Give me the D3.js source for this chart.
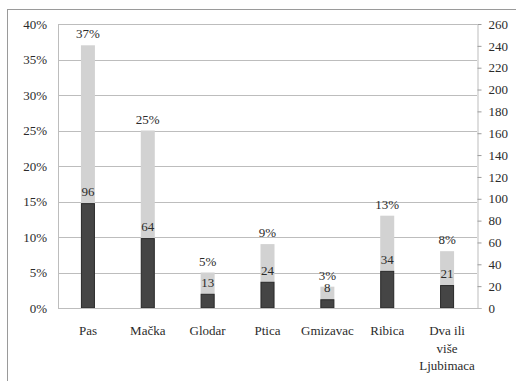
<!DOCTYPE html>
<html>
<head>
<meta charset="utf-8">
<script src="https://cdn.jsdelivr.net/npm/d3@7"></script>
<style>
  html, body { margin: 0; padding: 0; background: #fff; }
</style>
</head>
<body>
<svg id="chart" width="516" height="381"></svg>
<script>
// Pet ownership: share of respondents (left axis) and counts (right axis)
const categories = ["Pas", "Mačka", "Glodar", "Ptica", "Gmizavac", "Ribica", "Dva ili više Ljubimaca"];
const categoryLines = [["Pas"], ["Mačka"], ["Glodar"], ["Ptica"], ["Gmizavac"], ["Ribica"], ["Dva ili", "više", "Ljubimaca"]];
const percentValues = [37, 25, 5, 9, 3, 13, 8];
const countValues = [96, 64, 13, 24, 8, 34, 21];
const percentTicks = [0, 5, 10, 15, 20, 25, 30, 35, 40];
const countTicks = [0, 20, 40, 60, 80, 100, 120, 140, 160, 180, 200, 220, 240, 260];

const FONT = "Liberation Serif";
const TEXT_COLOR = "#2b2b2b";

const svg = d3.select("#chart");
const plot = { left: 58, right: 477, top: 24, bottom: 308 };

function styleText(sel) {
  sel.style("font-family", FONT).style("font-size", "13px").style("fill", TEXT_COLOR);
}

// Outer chart frame
svg.append("rect")
  .attr("x", 7.5).attr("y", 9.5)
  .attr("width", 540).attr("height", 400)
  .attr("fill", "none").attr("stroke", "#9a9a9a");

const x = d3.scaleBand().domain(categories).range([plot.left, plot.right]);
const yPct = d3.scaleLinear().domain([0, 40]).range([plot.bottom, plot.top]);
const yCnt = d3.scaleLinear().domain([0, 260]).range([plot.bottom, plot.top]);
const barW = 14;

// Horizontal gridlines at each percent tick
svg.append("g").selectAll("line").data(percentTicks).join("line")
  .attr("x1", plot.left).attr("x2", plot.right)
  .attr("y1", d => Math.round(yPct(d)) + 0.5).attr("y2", d => Math.round(yPct(d)) + 0.5)
  .attr("stroke", "#bdbdbd");

// Left frame line of the plot area
svg.append("line").attr("x1", plot.left + 0.5).attr("x2", plot.left + 0.5)
  .attr("y1", plot.top).attr("y2", plot.bottom).attr("stroke", "#bdbdbd");

// Percentage bars (light)
svg.append("g").selectAll("rect").data(percentValues).join("rect")
  .attr("x", (d, i) => x(categories[i]) + x.bandwidth() / 2 - barW / 2)
  .attr("y", d => yPct(d))
  .attr("width", barW)
  .attr("height", d => plot.bottom - yPct(d))
  .attr("fill", "#d2d2d2");

// Count bars (dark), on the right-hand scale
svg.append("g").selectAll("rect").data(countValues).join("rect")
  .attr("x", (d, i) => x(categories[i]) + x.bandwidth() / 2 - barW / 2 + 0.5)
  .attr("y", d => yCnt(d) + 0.5)
  .attr("width", barW - 1)
  .attr("height", d => plot.bottom - yCnt(d) - 0.5)
  .attr("fill", "#454545")
  .attr("stroke", "#2a2a2a");

// Value labels
svg.append("g").selectAll("text").data(percentValues).join("text")
  .attr("x", (d, i) => x(categories[i]) + x.bandwidth() / 2)
  .attr("y", d => yPct(d) - 7)
  .attr("text-anchor", "middle")
  .text(d => d + "%")
  .call(styleText);

svg.append("g").selectAll("text").data(countValues).join("text")
  .attr("x", (d, i) => x(categories[i]) + x.bandwidth() / 2)
  .attr("y", d => yCnt(d) - 7)
  .attr("text-anchor", "middle")
  .text(d => d)
  .call(styleText);

// Left axis (percent)
const leftAxis = svg.append("g")
  .attr("transform", `translate(${plot.left},0)`)
  .call(d3.axisLeft(yPct).tickValues(percentTicks).tickSize(0).tickPadding(11).tickFormat(d => d + "%"));
leftAxis.select(".domain").remove();
leftAxis.selectAll("text").call(styleText);

// Right axis (counts)
const rightAxis = svg.append("g")
  .attr("transform", `translate(${plot.right + 0.5},0)`)
  .call(d3.axisRight(yCnt).tickValues(countTicks).tickSize(4).tickSizeOuter(0).tickPadding(7));
rightAxis.select(".domain").attr("stroke", "#bdbdbd");
rightAxis.selectAll(".tick line").attr("stroke", "#9a9a9a");
rightAxis.selectAll("text").call(styleText);

// Bottom baseline
svg.append("line").attr("x1", plot.left).attr("x2", plot.right + 4)
  .attr("y1", plot.bottom + 0.5).attr("y2", plot.bottom + 0.5).attr("stroke", "#bdbdbd");

// Category labels (wrapped onto lines)
const catG = svg.append("g").selectAll("text").data(categoryLines).join("text")
  .attr("text-anchor", "middle")
  .attr("transform", (d, i) => `translate(${x(categories[i]) + x.bandwidth() / 2},335)`)
  .call(styleText);
catG.selectAll("tspan").data(d => d).join("tspan")
  .attr("x", 0).attr("y", (d, j) => j * 17.5)
  .text(d => d);
</script>
</body>
</html>
